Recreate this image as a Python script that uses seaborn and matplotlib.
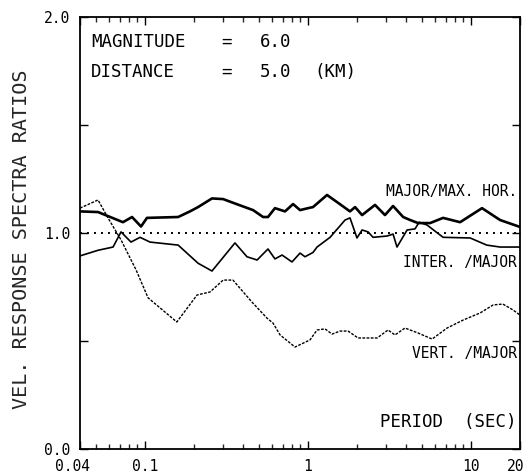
import numpy as np
import pandas as pd
import matplotlib
matplotlib.use("Agg")
import matplotlib.pyplot as plt
import matplotlib.transforms as mtransforms
import seaborn as sns
from matplotlib.ticker import FixedLocator, FixedFormatter, NullFormatter

# ---- data ----
major_T = [0.04, 0.0516, 0.0734, 0.0834, 0.0947, 0.103, 0.160, 0.189, 0.212, 0.258, 0.302,
           0.347, 0.461, 0.531, 0.569, 0.628, 0.724, 0.811, 0.895, 1.002, 1.075, 1.31, 1.51,
           1.812, 1.946, 2.15, 2.58, 2.97, 3.33, 3.84, 4.24, 4.74, 5.62, 6.75, 8.58, 11.7,
           15.1, 20.0]
major_v = [1.10, 1.097, 1.05, 1.074, 1.03, 1.07, 1.074, 1.10, 1.12, 1.16, 1.157,
           1.14, 1.106, 1.074, 1.074, 1.115, 1.10, 1.134, 1.106, 1.115, 1.12, 1.176, 1.143,
           1.10, 1.12, 1.083, 1.13, 1.083, 1.125, 1.074, 1.06, 1.046, 1.046, 1.07, 1.05, 1.115,
           1.06, 1.028]

inter_T = [0.04, 0.0516, 0.0638, 0.0714, 0.0822, 0.0934, 0.1075, 0.160, 0.212, 0.258, 0.357,
           0.423, 0.488, 0.569, 0.628, 0.694, 0.799, 0.895, 0.96, 1.075, 1.138, 1.368, 1.69,
           1.812, 2.0, 2.15, 2.34, 2.51, 3.06, 3.33, 3.52, 4.06, 4.54, 4.81, 5.38, 6.75, 9.89,
           12.5, 15.1, 20.0]
inter_v = [0.894, 0.92, 0.935, 1.005, 0.958, 0.98, 0.958, 0.944, 0.86, 0.824, 0.954,
           0.89, 0.875, 0.926, 0.88, 0.898, 0.866, 0.907, 0.89, 0.91, 0.935, 0.98, 1.06,
           1.07, 0.977, 1.014, 1.005, 0.98, 0.986, 0.995, 0.935, 1.014, 1.019, 1.05, 1.037, 0.98, 0.977,
           0.944, 0.935, 0.935]

vert_T = [0.04, 0.0516, 0.0594, 0.0714, 0.0882, 0.1046, 0.157, 0.209, 0.251, 0.302, 0.347,
          0.454, 0.561, 0.611, 0.675, 0.834, 1.03, 1.138, 1.274, 1.406, 1.575, 1.763, 2.03,
          2.66, 3.10, 3.42, 3.94, 4.74, 5.78, 7.14, 8.96, 11.4, 13.7, 15.7, 18.1, 20.0]
vert_v = [1.115, 1.153, 1.07, 0.968, 0.83, 0.70, 0.588, 0.713, 0.727, 0.782, 0.782,
          0.68, 0.606, 0.583, 0.528, 0.472, 0.505, 0.551, 0.556, 0.532, 0.546, 0.546, 0.514,
          0.514, 0.551, 0.528, 0.56, 0.537, 0.509, 0.56, 0.597, 0.63, 0.667, 0.671, 0.644, 0.62]

ref_T = [0.04, 20.0]
ref_v = [1.0, 1.0]

x_major = [0.04, 0.1, 1, 10, 20]
x_labels = ["0.04", "0.1", "1", "10", "20"]
y_ticks = [0.0, 0.5, 1.0, 1.5, 2.0]
y_labels = ["0.0", "", "1.0", "", "2.0"]

series_labels = ["MAJOR/MAX. HOR.", "INTER. /MAJOR", "VERT. /MAJOR"]

# ---- plotting ----
sns.set_style("ticks")
plt.rcParams['font.family'] = ['DejaVu Sans Mono', 'DejaVu Sans']

fig = plt.figure(figsize=(5.24, 4.76), dpi=100)
ax = fig.add_axes([80/524, 27/476, 440/524, 432/476])
ax.set_xscale('log')

df_major = pd.DataFrame({"T": major_T, "v": major_v})
df_inter = pd.DataFrame({"T": inter_T, "v": inter_v})
df_vert = pd.DataFrame({"T": vert_T, "v": vert_v})
df_ref = pd.DataFrame({"T": ref_T, "v": ref_v})

sns.lineplot(data=df_ref, x="T", y="v", ax=ax, color="black", lw=1.4,
             linestyle=(0, (1, 2.6)))
sns.lineplot(data=df_vert, x="T", y="v", ax=ax, color="black", lw=1.0,
             linestyle=(0, (2, 1)))
sns.lineplot(data=df_inter, x="T", y="v", ax=ax, color="black", lw=1.2)
sns.lineplot(data=df_major, x="T", y="v", ax=ax, color="black", lw=1.9)

ax.set_xlim(0.04, 20)
ax.set_ylim(0, 2)

ax.xaxis.set_major_locator(FixedLocator(x_major))
ax.xaxis.set_major_formatter(FixedFormatter(x_labels))
minor = [m * d for d in (0.01, 0.1, 1) for m in range(2, 10) if 0.04 < m * d < 20]
ax.xaxis.set_minor_locator(FixedLocator(minor))
ax.xaxis.set_minor_formatter(NullFormatter())
ax.yaxis.set_major_locator(FixedLocator(y_ticks))
ax.yaxis.set_major_formatter(FixedFormatter(y_labels))

ax.tick_params(axis='both', which='major', direction='in', length=6, width=1.0,
               top=True, right=True, labelsize=10.5, pad=7, colors='black')
ax.tick_params(axis='both', which='minor', direction='in', length=3.5, width=1.0,
               top=True, right=True)
for s in ax.spines.values():
    s.set_linewidth(1.3)
    s.set_color('black')

# nudge the first and last x tick labels like the reference
fig.canvas.draw()
xtl = ax.get_xticklabels()
xtl[0].set_transform(xtl[0].get_transform() +
                     mtransforms.ScaledTranslation(-7/100, 0, fig.dpi_scale_trans))
xtl[-1].set_transform(xtl[-1].get_transform() +
                      mtransforms.ScaledTranslation(-4/100, 0, fig.dpi_scale_trans))

ax.set_xlabel("")
ax.set_ylabel("VEL. RESPONSE SPECTRA RATIOS", fontsize=14.5)
ax.yaxis.set_label_coords(-0.112, 0.486)

tk = dict(transform=ax.transAxes, fontsize=12.5, va='center', color='black')
ax.text(0.025, 0.942, "MAGNITUDE", ha='left', **tk)
ax.text(0.332, 0.942, "=", ha='center', **tk)
ax.text(0.409, 0.942, "6.0", ha='left', **tk)
ax.text(0.025, 0.873, "DISTANCE", ha='left', **tk)
ax.text(0.332, 0.873, "=", ha='center', **tk)
ax.text(0.409, 0.873, "5.0", ha='left', **tk)
ax.text(0.532, 0.873, "(KM)", ha='left', **tk)

lk = dict(transform=ax.transAxes, fontsize=10.5, va='center', ha='right', color='black')
ax.text(0.993, 0.597, series_labels[0], **lk)
ax.text(0.993, 0.431, series_labels[1], **lk)
ax.text(0.993, 0.222, series_labels[2], **lk)
ax.text(0.993, 0.0625, "PERIOD  (SEC)", transform=ax.transAxes, fontsize=12.5,
        va='center', ha='right', color='black')

fig.savefig("out.png", dpi=100)
